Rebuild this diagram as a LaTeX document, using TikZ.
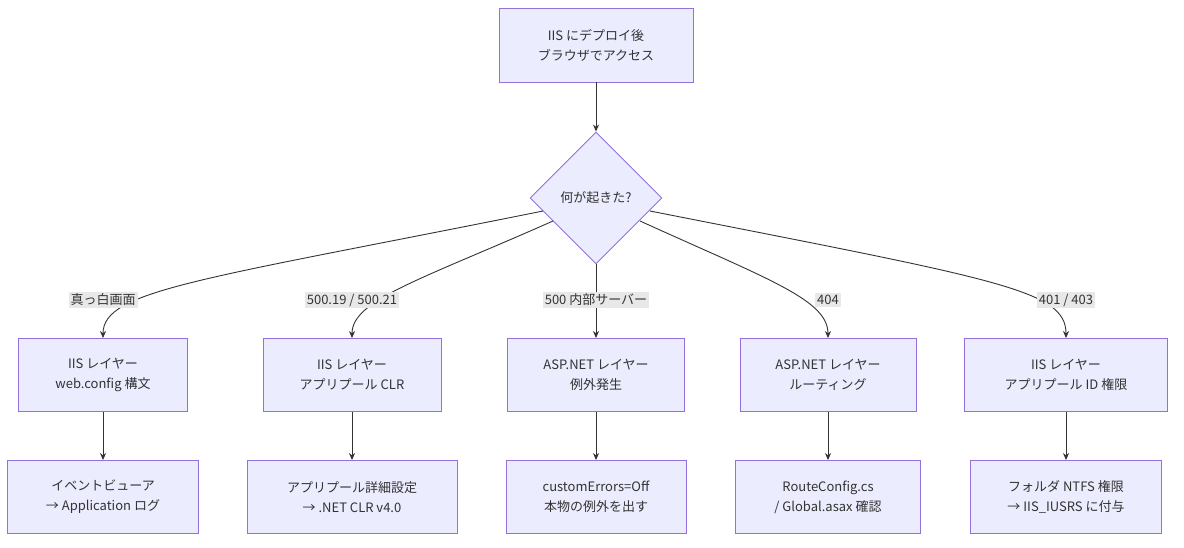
\documentclass[tikz,border=0pt]{standalone}
\usepackage{fontspec}
\setmainfont{Noto Sans CJK JP}
\usetikzlibrary{shapes.geometric,arrows.meta}
\definecolor{nfill}{HTML}{ECECFF}
\definecolor{nline}{HTML}{9370DB}
\definecolor{eline}{HTML}{333333}
\definecolor{lbg}{HTML}{E8E8E8}
\begin{document}
\begin{tikzpicture}[x=1pt,y=-1pt,
  box/.style={draw=nline,fill=nfill,line width=0.9pt,align=center,inner sep=0pt,font=\fontsize{13}{20}\selectfont,text=eline},
  lab/.style={fill=lbg,inner sep=2pt,font=\fontsize{13}{16}\selectfont,text=eline},
  arr/.style={draw=eline,line width=0.9pt,-{Stealth[length=7pt,width=6pt]}}]
\useasboundingbox (0,0) rectangle (1184,547);
\node[box,minimum width=194,minimum height=74] (top) at (596,45) {IIS にデプロイ後\\ブラウザでアクセス};
\node[box,shape=diamond,minimum width=132,minimum height=132] (dia) at (596,198) {何が起きた?};
\foreach \n/\x/\w/\t in {a/103/169/{IIS レイヤー\\web.config 構文},b/352/178/{IIS レイヤー\\アプリプール CLR},c/596/177/{ASP.NET レイヤー\\例外発生},d/828/176/{ASP.NET レイヤー\\ルーティング},e/1066/203/{IIS レイヤー\\アプリプール ID 権限}}
  \node[box,minimum width=\w,minimum height=73] (\n1) at (\x,375) {\t};
\foreach \n/\x/\w/\t in {a/103/191/{イベントビューア\\→ Application ログ},b/352/210/{アプリプール詳細設定\\→ .NET CLR v4.0},c/596/180/{customErrors=Off\\本物の例外を出す},d/828/185/{RouteConfig.cs\\/ Global.asax 確認},e/1066/191/{フォルダ NTFS 権限\\→ IIS\_IUSRS に付与}}
  \node[box,minimum width=\w,minimum height=73] (\n2) at (\x,497) {\t};
\draw[arr] (top) -- (dia);
\coordinate (sa) at (543,211);
\coordinate (sb) at (553,221);
\coordinate (sd) at (640,221);
\coordinate (se) at (650,211);
\draw[arr] (sa) .. controls (200,280) and (103,290) .. (a1.north);
\draw[arr] (sb) .. controls (420,280) and (352,300) .. (b1.north);
\draw[arr] (dia.south) -- (c1.north);
\draw[arr] (sd) .. controls (770,280) and (828,300) .. (d1.north);
\draw[arr] (se) .. controls (1000,280) and (1066,290) .. (e1.north);
\node[lab] (la) at (103,300) {真っ白画面};
\node[lab] (lb) at (352,300) {500.19 / 500.21};
\node[lab] (lc) at (596,300) {500 内部サーバー};
\node[lab] (ld) at (828,300) {404};
\node[lab] (le) at (1066,300) {401 / 403};
\foreach \n in {a,b,c,d,e} \draw[arr] (\n1) -- (\n2);
\end{tikzpicture}
\end{document}
